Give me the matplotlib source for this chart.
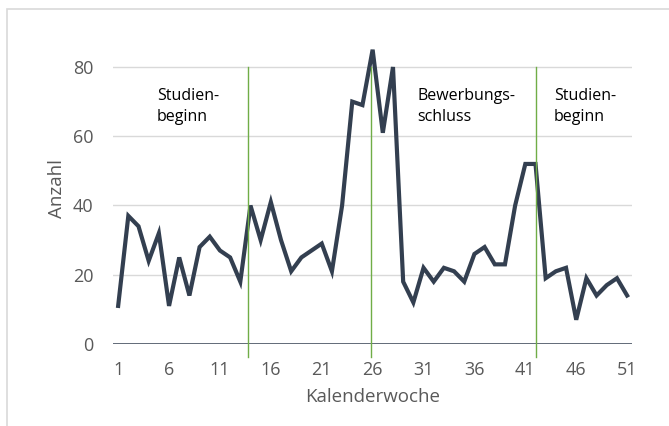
import numpy as np
import matplotlib
matplotlib.use("Agg")
import matplotlib.pyplot as plt
from matplotlib.patches import Rectangle

# Kalenderwochen und Anzahl
weeks = list(range(1, 52))
counts = [11, 37, 34, 24, 32, 11, 25, 14, 28, 31,
          27, 25, 18, 40, 30, 41, 30, 21, 25, 27,
          29, 21, 40, 70, 69, 85, 61, 80, 18, 12,
          22, 18, 22, 21, 18, 26, 28, 23, 23, 40,
          52, 52, 19, 21, 22, 7, 19, 14, 17, 19, 14]
tick_weeks = list(range(1, 52, 5))
y_ticks = [0, 20, 40, 60, 80]

# markierte Wochen mit Beschriftung
marker_weeks = [13.8, 25.8, 42.0]
notes = ["Studien-\nbeginn", "Bewerbungs-\nschluss", "Studien-\nbeginn"]
note_weeks = [4.8, 30.4, 43.8]
note_y = 74

plt.rcParams['font.family'] = ['Open Sans', 'DejaVu Sans']

fig = plt.figure(figsize=(6.69, 4.26), dpi=100)
ax = fig.add_axes([0.169, 0.1925, 0.776, 0.7315])

# Rahmen um das Diagramm
fig.patches.append(Rectangle((7 / 669, -0.1), 1.2, 1 - 9 / 426 + 0.1,
                             transform=fig.transFigure, fill=False,
                             edgecolor="#D9D9D9", linewidth=1.2))

for y in y_ticks[1:]:
    ax.axhline(y, color="#D9D9D9", linewidth=1.0, zorder=1)
ax.axhline(0, color="#333F50", linewidth=1.8, zorder=2)

ax.plot(weeks, counts, color="#333F50", linewidth=3.0, zorder=4,
        solid_joinstyle="miter")

for w in marker_weeks:
    ax.plot([w, w], [-3.7, 80], color="#70AD47", linewidth=1.0,
            zorder=5, clip_on=False)

for txt, w in zip(notes, note_weeks):
    ax.text(w, note_y, txt, fontsize=11.5, color="black", va="top",
            ha="left", linespacing=1.45)

ax.set_xlim(0.5, 51.5)
ax.set_ylim(0, 90)
ax.set_xticks(tick_weeks)
ax.set_yticks(y_ticks)
ax.tick_params(length=0, labelsize=13, labelcolor="#595959")
ax.tick_params(axis="x", pad=12)
ax.tick_params(axis="y", pad=14)
for s in ax.spines.values():
    s.set_visible(False)

ax.set_xlabel("Kalenderwoche", fontsize=13.5, color="#595959", labelpad=7)
ax.set_ylabel("Anzahl", fontsize=13.5, color="#595959", labelpad=5)

fig.savefig("out.png", dpi=100)
